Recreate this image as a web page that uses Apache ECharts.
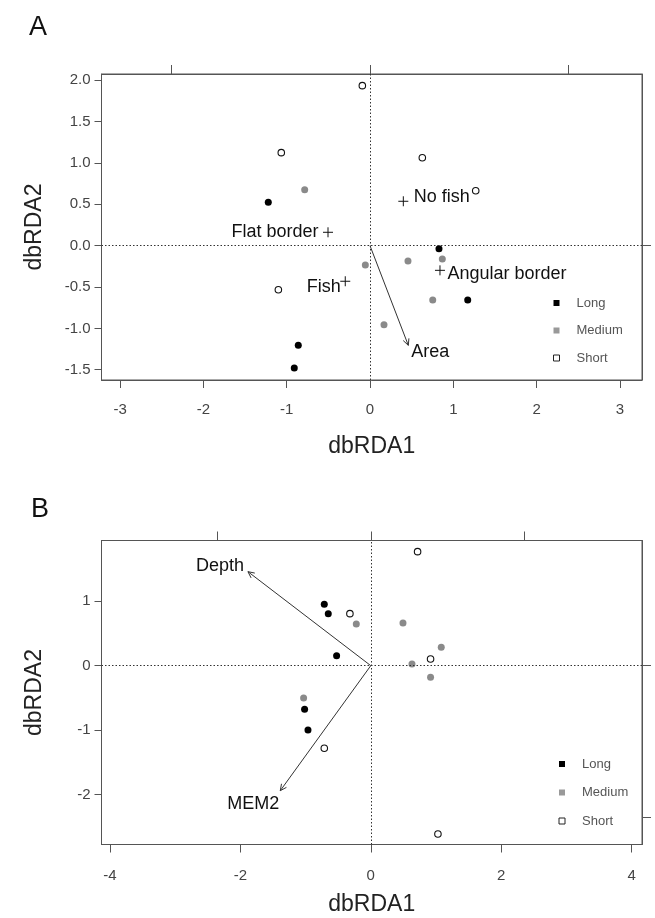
<!DOCTYPE html>
<html>
    <head>
        <meta charset="utf-8">
        <title>dbRDA</title>
        <script src="https://cdn.jsdelivr.net/npm/echarts@6.0.0/dist/echarts.min.js"></script>
        <style>
            body { margin: 0; background: #fff; }
        </style>
    </head>
    <body>
        <div id="main" style="width:655px; height:918px;"></div>
        <script type="text/javascript">
            // panel A site scores [dbRDA1, dbRDA2]
            var longA = [[-1.221, 0.525], [0.828, -0.036], [1.173, -0.657], [-0.861, -1.205], [-0.909, -1.479]]
            var mediumA = [[-0.784, 0.677], [-0.056, -0.233], [0.456, -0.185], [0.868, -0.161], [0.753, -0.657], [0.168, -0.955]]
            var shortA = [[-0.092, 1.935], [-1.065, 1.125], [0.628, 1.064], [1.269, 0.665], [-1.10, -0.532]]
            // panel A factor centroids and vector
            var centroidNamesA = ['No fish', 'Flat border', 'Fish', 'Angular border']
            var centroidXA = [0.40, -0.504, -0.297, 0.84]
            var centroidYA = [0.537, 0.162, -0.43, -0.298]
            var arrowNamesA = ['Area']
            var arrowXA = [0.46]
            var arrowYA = [-1.205]
            var xTicksA = [-3, -2, -1, 0, 1, 2, 3]
            var yTicksA = [-1.5, -1.0, -0.5, 0.0, 0.5, 1.0, 1.5, 2.0]

            // panel B
            var longB = [[-0.713, 0.952], [-0.652, 0.806], [-0.524, 0.155], [-1.015, -0.676], [-0.963, -0.997]]
            var mediumB = [[-0.222, 0.647], [0.494, 0.662], [1.081, 0.285], [0.632, 0.026], [0.917, -0.18], [-1.03, -0.50]]
            var shortB = [[0.718, 1.767], [-0.32, 0.806], [0.917, 0.104], [-0.713, -1.281], [1.03, -2.61]]
            var arrowNamesB = ['Depth', 'MEM2']
            var arrowXB = [-1.884, -1.388]
            var arrowYB = [1.457, -1.938]
            var xTicksB = [-4, -2, 0, 2, 4]
            var yTicksB = [-2, -1, 0, 1]

            var biplotTicks = [-1, 0, 1]
            var groups = ['Long', 'Medium', 'Short']

            var font = '"Liberation Sans", Arial, sans-serif'
            var axisColor = '#555'

            // label placement beside the markers (pixels)
            var centroidLabel = {
                'No fish': {position: 'right', distance: 3, offset: [0, -4]},
                'Flat border': {position: 'left', distance: 2, offset: [0, 0]},
                'Fish': {position: 'left', distance: -3, offset: [0, 6]},
                'Angular border': {position: 'right', distance: 0, offset: [0, 4]}
            }
            var arrowLabel = {
                'Area': {align: 'left', dx: 3, dy: 7},
                'Depth': {align: 'right', dx: -4, dy: -6},
                'MEM2': {align: 'center', dx: -27, dy: 13}
            }

            var inRange = function(list, min, max) {
                return list.filter(function(v) { return v >= min && v <= max })
            }

            var mainX = function(grid, min, max, ticks, nameGap, margin) {
                return {
                    gridIndex: grid, type: 'value', position: 'bottom', min: min, max: max,
                    name: 'dbRDA1', nameLocation: 'middle', nameGap: nameGap,
                    nameTextStyle: {fontSize: 23, color: '#222', fontFamily: font},
                    axisLine: {show: true, onZero: false, lineStyle: {color: axisColor}},
                    axisTick: {show: true, length: 8, customValues: ticks, lineStyle: {color: axisColor}},
                    axisLabel: {customValues: ticks, margin: margin, fontSize: 15, color: '#444', fontFamily: font},
                    splitLine: {show: false}
                }
            }
            var mainY = function(grid, min, max, ticks, fmt) {
                return {
                    gridIndex: grid, type: 'value', position: 'left', min: min, max: max,
                    name: 'dbRDA2', nameLocation: 'middle', nameGap: 55, nameRotate: 90,
                    nameTextStyle: {fontSize: 23, color: '#222', fontFamily: font},
                    axisLine: {show: true, onZero: false, lineStyle: {color: axisColor}},
                    axisTick: {show: true, length: 7, customValues: ticks, lineStyle: {color: axisColor}},
                    axisLabel: {customValues: ticks, margin: 11, fontSize: 15, color: '#444', fontFamily: font, formatter: fmt},
                    splitLine: {show: false}
                }
            }
            var sideAxis = function(grid, pos, min, max) {
                var ticks = inRange(biplotTicks, min, max)
                return {
                    gridIndex: grid, type: 'value', position: pos, min: min, max: max,
                    axisLine: {show: true, onZero: false, lineStyle: {color: axisColor}},
                    axisTick: {show: true, length: 9, customValues: ticks, lineStyle: {color: axisColor}},
                    axisLabel: {show: false},
                    splitLine: {show: false}
                }
            }

            // axis ranges
            var xA = [-3.223, 3.265], yA = [-1.624, 2.076], multA = 2.38
            var xB = [-4.13, 4.16], yB = [-2.772, 1.94], multB = 2.35

            var arrowRender = function(names) {
                return function(params, api) {
                    var s = api.coord([0, 0])
                    var e = api.coord([api.value(0), api.value(1)])
                    var ang = Math.atan2(e[1] - s[1], e[0] - s[0])
                    var h = 7, w = Math.PI / 7
                    var p1 = [e[0] - h * Math.cos(ang - w), e[1] - h * Math.sin(ang - w)]
                    var p2 = [e[0] - h * Math.cos(ang + w), e[1] - h * Math.sin(ang + w)]
                    var name = names[params.dataIndex]
                    var pl = arrowLabel[name]
                    return {
                        type: 'group',
                        children: [
                            {type: 'line', shape: {x1: s[0], y1: s[1], x2: e[0], y2: e[1]}, style: {stroke: '#333', lineWidth: 1}},
                            {type: 'polyline', shape: {points: [p1, e, p2]}, style: {stroke: '#333', fill: null, lineWidth: 1}},
                            {type: 'text', x: e[0] + pl.dx, y: e[1] + pl.dy, style: {
                                text: name, fill: '#111', fontSize: 18, fontFamily: font,
                                align: pl.align, verticalAlign: 'middle'
                            }}
                        ]
                    }
                }
            }

            var zeroLines = {
                silent: true, symbol: 'none', animation: false,
                label: {show: false},
                emphasis: {disabled: true},
                lineStyle: {type: [1.5, 2], color: '#333', width: 1, opacity: 1},
                data: [{xAxis: 0}, {yAxis: 0}]
            }

            var groupSeries = function(grid, lists) {
                var styles = [
                    {color: '#000', borderColor: '#000', borderWidth: 0, opacity: 1},
                    {color: '#8a8a8a', borderColor: '#8a8a8a', borderWidth: 0, opacity: 1},
                    {color: '#fff', borderColor: '#111', borderWidth: 1.1, opacity: 1}
                ]
                return lists.map(function(list, i) {
                    var s = {
                        name: groups[i], type: 'scatter',
                        xAxisIndex: grid * 2, yAxisIndex: grid * 2,
                        symbol: 'circle', symbolSize: i == 2 ? 6.5 : 7,
                        itemStyle: styles[i],
                        data: list
                    }
                    if (i == 0) {
                        s.markLine = zeroLines
                    }
                    return s
                })
            }

            var legendFor = function(left, top, gap) {
                return {
                    orient: 'vertical', left: left, top: top, padding: 0,
                    itemWidth: 6, itemHeight: 6, itemGap: gap,
                    selectedMode: false,
                    textStyle: {fontSize: 13, color: '#555', fontFamily: font, lineHeight: 14, padding: [0, 0, 0, 12]},
                    data: [
                        {name: 'Long', icon: 'rect', itemStyle: {color: '#000', borderWidth: 0}},
                        {name: 'Medium', icon: 'rect', itemStyle: {color: '#999', borderWidth: 0}},
                        {name: 'Short', icon: 'rect', itemStyle: {color: '#fff', borderColor: '#222', borderWidth: 1}}
                    ]
                }
            }

            var centroidData = centroidNamesA.map(function(n, i) {
                var pl = centroidLabel[n]
                return {
                    name: n, value: [centroidXA[i], centroidYA[i]],
                    label: {show: true, position: pl.position, distance: pl.distance, offset: pl.offset}
                }
            })

            var series = []
                .concat(groupSeries(0, [longA, mediumA, shortA]))
                .concat(groupSeries(1, [longB, mediumB, shortB]))
                .concat([
                    {
                        type: 'scatter', xAxisIndex: 0, yAxisIndex: 0,
                        symbol: 'path://M0,5H10M5,0V10', symbolSize: 10,
                        itemStyle: {color: 'none', borderColor: '#111', borderWidth: 1, opacity: 1},
                        label: {formatter: '{b}', fontSize: 18, color: '#111', fontFamily: font},
                        data: centroidData
                    },
                    {
                        type: 'custom', xAxisIndex: 0, yAxisIndex: 0,
                        renderItem: arrowRender(arrowNamesA),
                        data: arrowXA.map(function(x, i) { return [x, arrowYA[i]] })
                    },
                    {
                        type: 'custom', xAxisIndex: 2, yAxisIndex: 2,
                        renderItem: arrowRender(arrowNamesB),
                        data: arrowXB.map(function(x, i) { return [x, arrowYB[i]] })
                    }
                ])

            var myChart = echarts.init(document.querySelector('#main'))
            var option = {
                animation: false,
                backgroundColor: '#fff',
                textStyle: {fontFamily: font},
                graphic: [
                    {type: 'text', left: 29, top: 14, style: {text: 'A', fontSize: 27, fill: '#111', fontFamily: font}},
                    {type: 'text', left: 31, top: 496, style: {text: 'B', fontSize: 27, fill: '#111', fontFamily: font}}
                ],
                grid: [
                    {left: 101.5, top: 74, width: 540.5, height: 306, show: true, borderColor: axisColor, borderWidth: 1, backgroundColor: 'transparent'},
                    {left: 101.5, top: 540.5, width: 540.5, height: 304, show: true, borderColor: axisColor, borderWidth: 1, backgroundColor: 'transparent'}
                ],
                xAxis: [
                    mainX(0, xA[0], xA[1], xTicksA, 55, 22),
                    sideAxis(0, 'top', xA[0] / multA, xA[1] / multA),
                    mainX(1, xB[0], xB[1], xTicksB, 49, 24),
                    sideAxis(1, 'top', xB[0] / multB, xB[1] / multB)
                ],
                yAxis: [
                    mainY(0, yA[0], yA[1], yTicksA, function(v) { return v.toFixed(1) }),
                    sideAxis(0, 'right', yA[0] / multA, yA[1] / multA),
                    mainY(1, yB[0], yB[1], yTicksB, function(v) { return String(v) }),
                    sideAxis(1, 'right', yB[0] / multB, yB[1] / multB)
                ],
                legend: [
                    legendFor(553, 296, 13.5),
                    legendFor(558.5, 757, 14.5)
                ],
                series: series
            }
            myChart.setOption(option)
        </script>
    </body>
</html>
